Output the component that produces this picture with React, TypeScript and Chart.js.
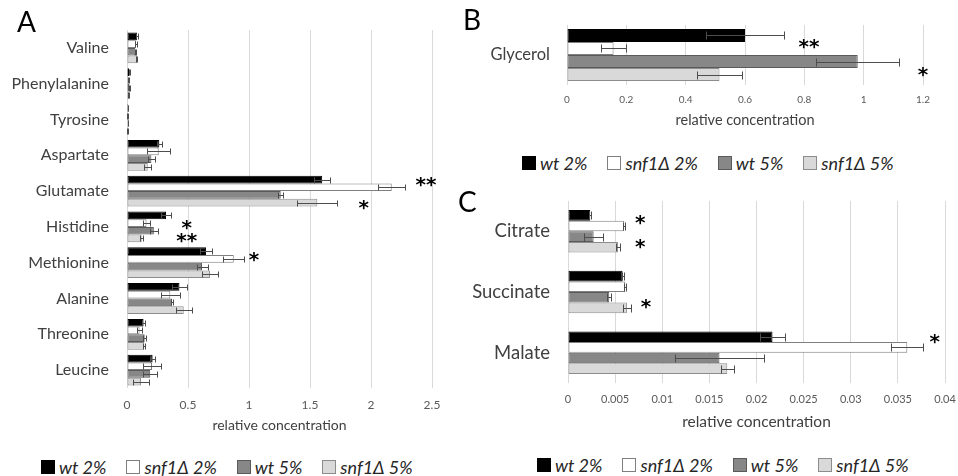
import React, { useEffect, useRef } from 'react';
import { Chart, registerables } from 'chart.js';

Chart.register(...registerables);

// ---------- data ----------
const seriesNames = ['wt 2%', 'snf1Δ 2%', 'wt 5%', 'snf1Δ 5%'];
const seriesFill = ['#000000', '#ffffff', '#878787', '#d9d9d9'];
const seriesBorder = ['#000000', '#7f7f7f', '#5a5a5a', '#8c8c8c'];
const axisTitle = 'relative concentration';

// Panel A – amino acids
const aminoAcids = ['Valine', 'Phenylalanine', 'Tyrosine', 'Aspartate', 'Glutamate', 'Histidine', 'Methionine', 'Alanine', 'Threonine', 'Leucine'];
const wt2A = [0.082, 0.018, 0.008, 0.265, 1.6, 0.32, 0.648, 0.43, 0.136, 0.21];
const snf2A = [0.074, 0.01, 0.006, 0.26, 2.17, 0.16, 0.875, 0.355, 0.103, 0.205];
const wt5A = [0.068, 0.02, 0.007, 0.2, 1.26, 0.22, 0.615, 0.37, 0.145, 0.19];
const snf5A = [0.08, 0.015, 0.006, 0.17, 1.56, 0.12, 0.68, 0.465, 0.142, 0.115];
const wt2AErr = [0.005, 0.003, 0.002, 0.02, 0.065, 0.04, 0.05, 0.06, 0.01, 0.02];
const snf2AErr = [0.012, 0.003, 0.002, 0.095, 0.11, 0.03, 0.085, 0.08, 0.02, 0.07];
const wt5AErr = [0.005, 0.004, 0.002, 0.03, 0.02, 0.03, 0.045, 0.01, 0.01, 0.055];
const snf5AErr = [0.006, 0.003, 0.002, 0.03, 0.165, 0.015, 0.065, 0.065, 0.008, 0.065];
const ticksA = ['0', '0.5', '1', '1.5', '2', '2.5'];
const maxA = 2.5;
const stepA = 0.5;

// Panel B – glycerol
const glycerolCats = ['Glycerol'];
const wt2B = [0.6];
const snf2B = [0.157];
const wt5B = [0.98];
const snf5B = [0.514];
const wt2BErr = [0.13];
const snf2BErr = [0.043];
const wt5BErr = [0.14];
const snf5BErr = [0.075];
const ticksB = ['0', '0.2', '0.4', '0.6', '0.8', '1', '1.2'];
const maxB = 1.2;
const stepB = 0.2;

// Panel C – organic acids
const acids = ['Citrate', 'Succinate', 'Malate'];
const wt2C = [0.00236, 0.00579, 0.0217];
const snf2C = [0.00597, 0.00607, 0.036];
const wt5C = [0.00272, 0.00438, 0.01607];
const snf5C = [0.0053, 0.00625, 0.0169];
const wt2CErr = [0.0001, 0.0001, 0.0013];
const snf2CErr = [0.0001, 0.0001, 0.0017];
const wt5CErr = [0.001, 0.0002, 0.0047];
const snf5CErr = [0.00025, 0.0004, 0.0007];
const ticksC = ['0', '0.005', '0.01', '0.015', '0.02', '0.025', '0.03', '0.035', '0.04'];
const maxC = 0.04;
const stepC = 0.005;

// significance marks: category index, dataset slot (fractional), x value, text
type Star = { cat: number; slot: number; x: number; text: string };
const starsA: Star[] = [
  { cat: 4, slot: 0, x: 2.45, text: '**' },
  { cat: 4, slot: 3, x: 1.94, text: '*' },
  { cat: 5, slot: 1, x: 0.49, text: '*' },
  { cat: 5, slot: 2.6, x: 0.49, text: '**' },
  { cat: 6, slot: 0.5, x: 1.04, text: '*' },
];
const starsB: Star[] = [
  { cat: 0, slot: 0.5, x: 0.816, text: '**' },
  { cat: 0, slot: 2.65, x: 1.2, text: '*' },
];
const starsC: Star[] = [
  { cat: 0, slot: 0.2, x: 0.00766, text: '*' },
  { cat: 0, slot: 2.5, x: 0.00766, text: '*' },
  { cat: 1, slot: 2.4, x: 0.00827, text: '*' },
  { cat: 2, slot: 0, x: 0.0389, text: '*' },
];

// ---------- plugins ----------
const errorBarPlugin = {
  id: 'errorBars',
  afterDatasetsDraw(chart: any, _args: any, opts: any) {
    const errs: number[][] = opts.errors;
    if (!errs) return;
    const ctx = chart.ctx;
    const xs = chart.scales.x;
    ctx.save();
    ctx.strokeStyle = opts.color || '#4d4d4d';
    ctx.lineWidth = 1;
    chart.data.datasets.forEach((ds: any, i: number) => {
      const meta = chart.getDatasetMeta(i);
      meta.data.forEach((el: any, j: number) => {
        const v = ds.data[j];
        const e = errs[i][j];
        const x1 = Math.round(xs.getPixelForValue(Math.max(0, v - e))) + 0.5;
        const x2 = Math.round(xs.getPixelForValue(v + e)) + 0.5;
        const y = Math.round(el.y) + 0.5;
        const cap = Math.round(Math.min(el.height * 0.8, 8) / 2);
        ctx.beginPath();
        ctx.moveTo(x1, y);
        ctx.lineTo(x2, y);
        ctx.moveTo(x1, y - cap);
        ctx.lineTo(x1, y + cap);
        ctx.moveTo(x2, y - cap);
        ctx.lineTo(x2, y + cap);
        ctx.stroke();
      });
    });
    ctx.restore();
  },
};

const starPlugin = {
  id: 'stars',
  afterDatasetsDraw(chart: any, _args: any, opts: any) {
    const stars: Star[] = opts.stars;
    if (!stars) return;
    const ctx = chart.ctx;
    const xs = chart.scales.x;
    const n = chart.data.datasets.length;
    const size = opts.size || 22;
    ctx.save();
    ctx.fillStyle = '#000';
    ctx.font = `bold ${size}px "DejaVu Sans"`;
    ctx.textAlign = 'center';
    ctx.textBaseline = 'alphabetic';
    stars.forEach((s) => {
      const lo = Math.max(0, Math.min(n - 1, Math.floor(s.slot)));
      const hi = Math.min(n - 1, lo + 1);
      const f = s.slot - lo;
      const y0 = chart.getDatasetMeta(lo).data[s.cat].y;
      const y1 = chart.getDatasetMeta(hi).data[s.cat].y;
      const y = y0 + (y1 - y0) * f;
      const x = xs.getPixelForValue(s.x);
      ctx.fillText(s.text, x, y + size * 0.56);
    });
    ctx.restore();
  },
};

// ---------- panel ----------
type PanelProps = {
  left: number;
  top: number;
  w: number;
  h: number;
  labels: string[];
  series: number[][];
  errors: number[][];
  stars: Star[];
  max: number;
  step: number;
  tickLabels: string[];
  pad: { left: number; right: number; top: number; bottom: number };
  yWidth: number;
  xHeight: number;
  catFont: number;
  catPad: number;
  tickFont: number;
  tickPad: number;
  titleFont: number;
  catPct: number;
};

function BarPanel(p: PanelProps) {
  const ref = useRef<HTMLCanvasElement>(null);
  useEffect(() => {
    const chart = new Chart(ref.current as HTMLCanvasElement, {
      type: 'bar',
      data: {
        labels: p.labels,
        datasets: p.series.map((d, i) => ({
          label: seriesNames[i],
          data: d,
          backgroundColor: seriesFill[i],
          borderColor: seriesBorder[i],
          borderWidth: 1,
          borderSkipped: false,
          categoryPercentage: p.catPct,
          barPercentage: 1,
        })),
      },
      options: {
        indexAxis: 'y',
        responsive: false,
        animation: false,
        devicePixelRatio: 1,
        layout: { padding: p.pad },
        plugins: {
          legend: { display: false },
          tooltip: { enabled: false },
          errorBars: { errors: p.errors, color: '#4d4d4d' },
          stars: { stars: p.stars, size: 20 },
        } as any,
        scales: {
          x: {
            min: 0,
            max: p.max,
            ticks: {
              stepSize: p.step,
              autoSkip: false,
              maxRotation: 0,
              color: '#595959',
              font: { family: 'Lato', size: p.tickFont },
              padding: p.tickPad,
              callback: (_v: any, i: number) => p.tickLabels[i],
            },
            grid: { color: '#d9d9d9', drawTicks: false },
            border: { display: false },
            title: {
              display: true,
              text: axisTitle,
              color: '#404040',
              font: { family: 'Lato', size: p.titleFont },
              padding: { top: 0, bottom: 0 },
            },
            afterFit: (s: any) => {
              s.height = p.xHeight;
              s.paddingLeft = 0;
              s.paddingRight = 0;
            },
          },
          y: {
            ticks: {
              color: '#404040',
              font: { family: 'Lato', size: p.catFont },
              padding: p.catPad,
            },
            grid: { display: false, drawTicks: false },
            border: { display: false },
            afterFit: (s: any) => {
              s.width = p.yWidth;
              s.paddingTop = 0;
              s.paddingBottom = 0;
            },
          },
        },
      } as any,
      plugins: [errorBarPlugin, starPlugin],
    });
    return () => chart.destroy();
  }, []);
  return (
    <canvas
      ref={ref}
      width={p.w}
      height={p.h}
      style={{ position: 'absolute', left: p.left, top: p.top, width: p.w, height: p.h }}
    />
  );
}

function Legend({ left, top }: { left: number; top: number }) {
  return (
    <div
      style={{
        position: 'absolute',
        left,
        top,
        height: 20,
        display: 'flex',
        alignItems: 'center',
        fontFamily: 'Lato',
        fontStyle: 'italic',
        fontWeight: 400,
        fontSize: 18,
        color: '#262626',
        whiteSpace: 'nowrap',
      }}
    >
      {seriesNames.map((n, i) => (
        <div key={n} style={{ display: 'flex', alignItems: 'center', marginRight: 20 }}>
          <span
            style={{
              display: 'inline-block',
              width: 14,
              height: 14,
              boxSizing: 'border-box',
              background: seriesFill[i],
              border: `1px solid ${seriesBorder[i]}`,
              marginRight: 4,
            }}
          />
          <span>{n}</span>
        </div>
      ))}
    </div>
  );
}

function Letter({ text, left, top }: { text: string; left: number; top: number }) {
  return (
    <div style={{ position: 'absolute', left, top, fontFamily: 'Lato', fontSize: 28, lineHeight: '28px', color: '#000' }}>
      {text}
    </div>
  );
}

export default function App() {
  return (
    <div style={{ position: 'absolute', left: 0, top: 0, width: 958, height: 476, background: '#fff', overflow: 'hidden' }}>
      <BarPanel
        left={0}
        top={0}
        w={450}
        h={434}
        labels={aminoAcids}
        series={[wt2A, snf2A, wt5A, snf5A]}
        errors={[wt2AErr, snf2AErr, wt5AErr, snf5AErr]}
        stars={starsA}
        max={maxA}
        step={stepA}
        tickLabels={ticksA}
        pad={{ left: 0, right: 18, top: 30, bottom: 0 }}
        yWidth={127}
        xHeight={46}
        catFont={16}
        catPad={18}
        tickFont={12}
        tickPad={10}
        titleFont={14}
        catPct={0.86}
      />
      <BarPanel
        left={450}
        top={0}
        w={508}
        h={129}
        labels={glycerolCats}
        series={[wt2B, snf2B, wt5B, snf5B]}
        errors={[wt2BErr, snf2BErr, wt5BErr, snf5BErr]}
        stars={starsB}
        max={maxB}
        step={stepB}
        tickLabels={ticksB}
        pad={{ left: 0, right: 35, top: 25, bottom: 0 }}
        yWidth={117}
        xHeight={44}
        catFont={16.5}
        catPad={17}
        tickFont={10}
        tickPad={9}
        titleFont={14.5}
        catPct={0.867}
      />
      <BarPanel
        left={450}
        top={190}
        w={508}
        h={241}
        labels={acids}
        series={[wt2C, snf2C, wt5C, snf5C]}
        errors={[wt2CErr, snf2CErr, wt5CErr, snf5CErr]}
        stars={starsC}
        max={maxC}
        step={stepC}
        tickLabels={ticksC}
        pad={{ left: 0, right: 13, top: 11, bottom: 0 }}
        yWidth={118}
        xHeight={48}
        catFont={18.5}
        catPad={18}
        tickFont={11}
        tickPad={10}
        titleFont={15.5}
        catPct={0.7}
      />
      <Letter text="A" left={17} top={7} />
      <Letter text="B" left={463} top={5} />
      <Letter text="C" left={458} top={187} />
      <Legend left={41} top={457} />
      <Legend left={522} top={153} />
      <Legend left={537} top={455} />
    </div>
  );
}
